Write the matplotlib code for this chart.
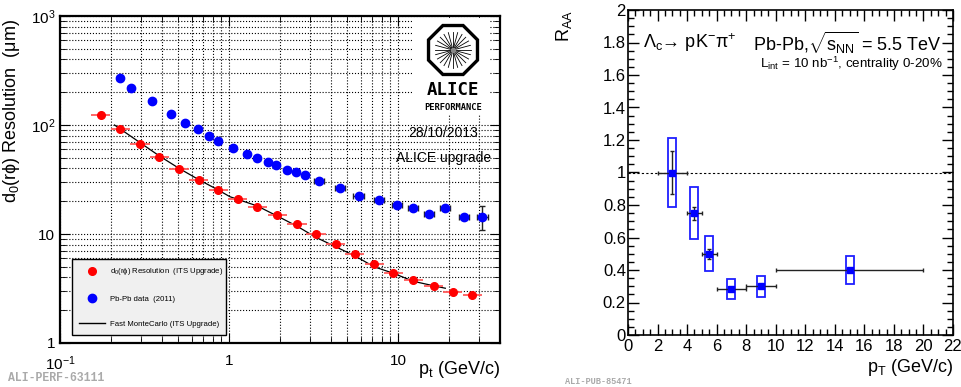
#Two ALICE panels: impact parameter resolution (left) and Lambda_c R_AA (right)
import numpy as np
import matplotlib
matplotlib.use('Agg')
import matplotlib.pyplot as plt
from matplotlib.lines import Line2D
from matplotlib.patches import Rectangle, RegularPolygon
from matplotlib.ticker import LogLocator, FixedLocator, FixedFormatter, MultipleLocator, FuncFormatter, NullFormatter

plt.rcParams['font.family'] = ['Liberation Sans', 'DejaVu Sans']
plt.rcParams['mathtext.fontset'] = 'custom'
plt.rcParams['mathtext.rm'] = 'Liberation Sans'
plt.rcParams['mathtext.it'] = 'Liberation Sans:italic'
plt.rcParams['mathtext.bf'] = 'Liberation Sans:bold'

#left panel data: d0(rphi) resolution vs pt
red_pt = [0.174, 0.227, 0.297, 0.387, 0.506, 0.662, 0.864, 1.126, 1.465, 1.93, 2.52, 3.27,
          4.26, 5.54, 7.21, 9.38, 12.3, 16.2, 21.0, 27.5]
red_res = [123.6, 91.4, 67.4, 51.2, 39.7, 31.5, 25.3, 20.8, 17.7, 14.8, 12.4, 10.1,
           8.15, 6.55, 5.3, 4.42, 3.76, 3.33, 2.96, 2.74]
red_dlog = 0.057  #half width of the pt bins in decades

blue_pt = [0.225, 0.262, 0.351, 0.454, 0.552, 0.651, 0.757, 0.863, 1.06, 1.27, 1.47, 1.69,
           1.905, 2.20, 2.49, 2.83, 3.42, 4.52, 5.83, 7.69, 9.82, 12.2, 15.2, 19.0, 24.6, 31.5]
blue_res = [270, 220, 167, 127, 105, 91.4, 79.8, 71.8, 61.5, 54.5, 49.5, 45.5,
            42.7, 38.9, 36.8, 34.5, 30.4, 26.4, 22.3, 20.6, 18.3, 17.3, 15.4, 17.3, 14.3, 14.3]
blue_dlog = [0.015] * 16 + [0.03] * 10
blue_err_lo = [0] * 25 + [3.4]
blue_err_hi = [0] * 25 + [3.8]

mc_pt = [0.21, 0.297, 0.387, 0.506, 0.662, 0.864, 1.01, 1.465, 1.93, 2.52, 3.27, 4.26,
         5.54, 7.21, 9.38, 12.3, 16.2, 19.0]
mc_res = [100, 69, 52, 40, 31.5, 25.3, 22.0, 18.1, 14.6, 11.8, 9.3, 7.65,
          6.3, 5.0, 4.36, 3.68, 3.35, 3.18]

#right panel data: Lambda_c R_AA
raa_pt = [3, 4.5, 5.5, 7, 9, 15]
raa_xlo = [2, 4, 5, 6, 8, 10]
raa_xhi = [4, 5, 6, 8, 10, 20]
raa = [1.0, 0.75, 0.50, 0.283, 0.30, 0.40]
raa_stat = [0.133, 0.04, 0.03, 0.0, 0.0, 0.0]
raa_syst = [0.21, 0.158, 0.108, 0.06, 0.066, 0.086]

fig = plt.figure(figsize=(9.62, 3.87), dpi=100)

# ---------------- left panel ----------------
ax1 = fig.add_axes([60/962, 44/387, 440/962, 327/387])
ax1.set_xscale('log')
ax1.set_yscale('log')
ax1.set_xlim(0.1, 40)
ax1.set_ylim(1, 1000)

ax1.xaxis.set_major_locator(FixedLocator([0.1, 1, 10]))
ax1.xaxis.set_major_formatter(FixedFormatter([r'$10^{-1}$', '1', '10']))
ax1.yaxis.set_major_locator(FixedLocator([1, 10, 100, 1000]))
ax1.yaxis.set_major_formatter(FixedFormatter(['1', '10', r'$10^{2}$', r'$10^{3}$']))
for axis in (ax1.xaxis, ax1.yaxis):
    axis.set_minor_locator(LogLocator(base=10, subs=np.arange(2, 10)))
    axis.set_minor_formatter(NullFormatter())
ax1.grid(which='both', linestyle=':', color='k', linewidth=0.8)
ax1.tick_params(which='both', direction='in', top=True, right=True, labelsize=11)
ax1.tick_params(axis='x', which='major', pad=8)
ax1.tick_params(which='major', length=7)
ax1.tick_params(which='minor', length=4)
for s in ax1.spines.values():
    s.set_linewidth(1.6)

rp = np.array(red_pt)
red_xerr = [rp - rp * 10**-red_dlog, rp * 10**red_dlog - rp]
ax1.errorbar(red_pt, red_res, xerr=red_xerr, fmt='o', color='red', ms=5.5,
             ecolor='#ff5a5a', elinewidth=1.3, capsize=0, zorder=4)
bp = np.array(blue_pt)
bd = np.array(blue_dlog)
blue_xerr = [bp - bp * 10**-bd, bp * 10**bd - bp]
ax1.errorbar(blue_pt, blue_res, xerr=blue_xerr, yerr=[blue_err_lo, blue_err_hi], fmt='o',
             color='blue', ms=6, ecolor='#222222', elinewidth=1, capsize=2, zorder=4)
ax1.plot(mc_pt, mc_res, color='k', linewidth=0.9, zorder=3)

ax1.set_xlabel(r'p$_{\mathrm{t}}$ (GeV/c)', fontsize=13, loc='right')
ax1.xaxis.set_label_coords(1.0, -0.05)
ax1.set_ylabel(r'd$_{0}$(r$\mathrm{\phi}$) Resolution  ($\mathrm{\mu}$m)', fontsize=13, loc='top')
ax1.yaxis.set_label_coords(-0.086, 0.99)

ax1.text(478/962, 1 - 133/387, '28/10/2013', transform=fig.transFigure, fontsize=10,
         ha='right', va='center')
ax1.text(491/962, 1 - 158/387, 'ALICE upgrade', transform=fig.transFigure, fontsize=10,
         ha='right', va='center')

handles = [Line2D([], [], marker='o', color='red', ls='none', ms=5.5),
           Line2D([], [], marker='o', color='blue', ls='none', ms=6),
           Line2D([], [], color='k', lw=1)]
labels = [r'd$_{0}$(r$\mathrm{\phi}$) Resolution  (ITS Upgrade)', 'Pb-Pb data  (2011)',
          'Fast MonteCarlo (ITS Upgrade)']
leg = ax1.legend(handles, labels, loc='lower left', bbox_to_anchor=(0.027, 0.0245, 0.35, 0.2),
                 mode='expand', borderaxespad=0, fontsize=5.6, handlelength=3.4,
                 handletextpad=0.6, labelspacing=2.3, borderpad=0.9, fancybox=False,
                 framealpha=1, facecolor='#f0f0f0', edgecolor='k')
leg.get_frame().set_linewidth(1)

#ALICE performance logo on a white patch
lg = fig.add_axes([412/962, 1 - 115/387, 78/962, 97/387])
lg.set_xlim(0, 78)
lg.set_ylim(0, 97)
lg.set_xticks([])
lg.set_yticks([])
for s in lg.spines.values():
    s.set_visible(False)
lg.set_facecolor('white')
cx, cy = 41, 65
lg.add_patch(RegularPolygon((cx, cy), 8, radius=26.5, orientation=np.pi/8,
                            fill=False, ec='k', lw=2.4))
for a in np.linspace(0, 2*np.pi, 24, endpoint=False):
    lg.plot([cx + 2*np.cos(a), cx + 18*np.cos(a)], [cy + 2*np.sin(a), cy + 18*np.sin(a)],
            color='k', lw=0.6)
lg.plot(cx, cy, 'o', color='#888888', ms=3)
lg.text(cx, 25, 'ALICE', ha='center', va='center', fontsize=12.5, fontweight='bold',
        family='DejaVu Sans Mono')
lg.text(cx, 7, 'PERFORMANCE', ha='center', va='center', fontsize=6.3, fontweight='bold',
        family='DejaVu Sans Mono')

fig.text(8/962, 1 - 378/387, 'ALI-PERF-63111', fontsize=8.3, color='#aaaaaa',
         family='Liberation Mono', fontweight='bold', ha='left', va='center')

# ---------------- right panel ----------------
ax2 = fig.add_axes([628/962, 52/387, 325/962, 325/387])
ax2.set_xlim(0, 22)
ax2.set_ylim(0, 2)
ax2.xaxis.set_major_locator(MultipleLocator(2))
ax2.xaxis.set_minor_locator(MultipleLocator(0.5))
ax2.yaxis.set_major_locator(MultipleLocator(0.2))
ax2.yaxis.set_minor_locator(MultipleLocator(0.05))
ax2.yaxis.set_major_formatter(FuncFormatter(lambda v, p: '%g' % round(v, 2)))
ax2.xaxis.set_major_formatter(FuncFormatter(lambda v, p: '%g' % round(v, 2)))
ax2.tick_params(which='both', direction='in', top=True, right=True, labelsize=12)
ax2.tick_params(which='major', length=8, width=1)
ax2.tick_params(which='minor', length=4.5, width=1)
ax2.tick_params(axis='y', pad=1.5)
ax2.tick_params(axis='x', pad=3)
for s in ax2.spines.values():
    s.set_linewidth(1.2)

ax2.axhline(1, color='k', linestyle=(0, (2, 2)), linewidth=0.8, zorder=1)
for x, y, e in zip(raa_pt, raa, raa_syst):
    ax2.add_patch(Rectangle((x - 0.27, y - e), 0.54, 2*e, fill=False, ec='#1f1fff',
                            lw=1.3, zorder=2))
xe = [np.array(raa_pt) - np.array(raa_xlo), np.array(raa_xhi) - np.array(raa_pt)]
ax2.errorbar(raa_pt, raa, xerr=xe, yerr=raa_stat, fmt='s', color='blue', ms=4,
             ecolor='#222222', elinewidth=1, capsize=1.5, zorder=3)

ax2.set_xlabel(r'p$_{\mathrm{T}}$ (GeV/c)', fontsize=13, loc='right')
ax2.xaxis.set_label_coords(1.0, -0.068)
ax2.set_ylabel(r'R$_{\mathrm{AA}}$', fontsize=13, loc='top')
ax2.yaxis.set_label_coords(-0.165, 1.0)

ax2.text(643/962, 1 - 43/387, r'$\mathrm{\Lambda_{c}}$→ pK$^{-}$π$^{+}$',
         transform=fig.transFigure, fontsize=13, ha='left', va='center')
ax2.text(942/962, 1 - 43/387, r'Pb-Pb,$\sqrt{\mathrm{s}_{\mathrm{NN}}}$ = 5.5 TeV',
         transform=fig.transFigure, fontsize=13, ha='right', va='center')
ax2.text(943/962, 1 - 64/387, r'L$_{\mathrm{int}}$ = 10 nb$^{-1}$, centrality 0-20%',
         transform=fig.transFigure, fontsize=9.6, ha='right', va='center')

fig.text(565/962, 1 - 381/387, 'ALI-PUB-85471', fontsize=6.2, color='#aaaaaa',
         family='Liberation Mono', fontweight='bold', ha='left', va='center')

fig.savefig('out.png', dpi=100)
